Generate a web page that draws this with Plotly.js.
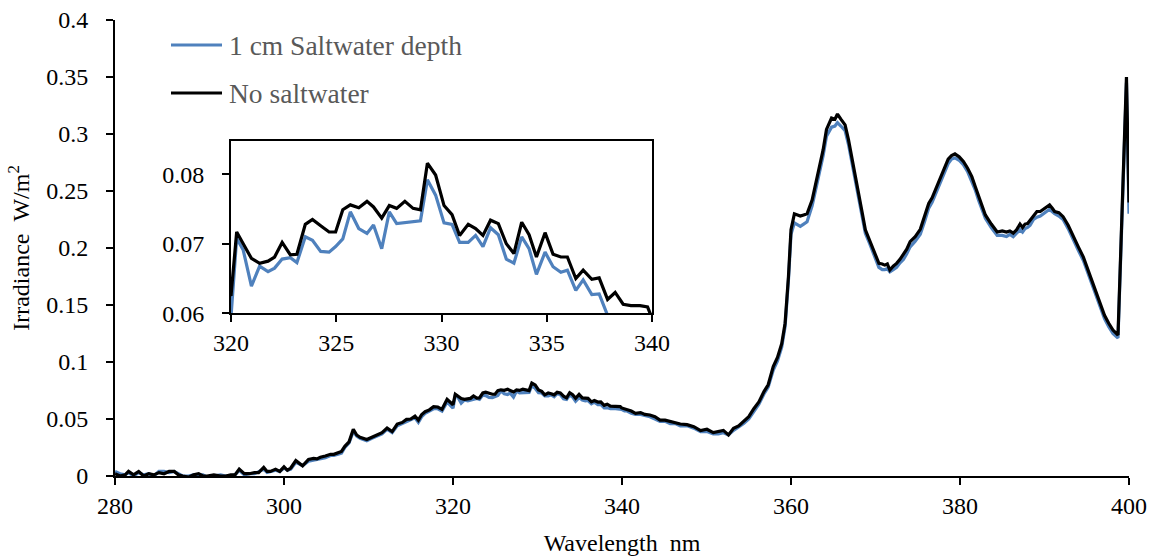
<!DOCTYPE html>
<html>
<head>
<meta charset="utf-8">
<script src="https://cdn.plot.ly/plotly-3.0.1.min.js"></script>
<style>html,body{margin:0;padding:0;background:#fff;}#chart{width:1153px;height:558px;}</style>
</head>
<body>
<div id="chart"></div>
<script>
// ---- Data (wavelength in nm, irradiance in W/m^2) ----
// Region 280 - 320 nm
const wlA = [280.0,280.6,281.2,281.6,282.2,282.8,283.4,284.0,284.6,285.2,285.8,286.4,287.0,287.5,288.0,288.7,289.3,289.9,290.4,290.9,291.7,292.5,293.1,293.7,294.2,294.7,295.3,295.9,296.5,297.0,297.6,298.0,298.4,299.0,299.5,300.0,300.4,300.8,301.4,301.9,302.2,302.9,303.5,303.9,304.3,304.9,305.5,305.9,306.4,306.8,307.2,307.7,308.2,308.6,309.0,309.4,309.8,310.4,311.0,311.6,312.2,312.8,313.4,314.0,314.5,315.0,315.5,315.9,316.3,316.7,317.2,317.7,318.2,318.7,319.3,319.6];
const saltA = [0.004,0.002,0.001,0.003,0.000,0.003,0.001,0.002,0.000,0.004,0.004,0.003,0.004,0.002,0.000,0.000,0.001,0.001,0.001,-0.001,0.000,0.001,0.000,0.000,0.001,0.005,0.001,0.002,0.002,0.004,0.006,0.003,0.004,0.005,0.004,0.007,0.005,0.006,0.012,0.010,0.009,0.013,0.014,0.014,0.015,0.016,0.018,0.018,0.019,0.020,0.025,0.029,0.039,0.035,0.033,0.032,0.031,0.033,0.035,0.037,0.041,0.038,0.044,0.046,0.048,0.049,0.051,0.047,0.052,0.055,0.057,0.059,0.059,0.057,0.065,0.063];
const noneA = [0.002,0.000,0.001,0.004,0.001,0.004,0.000,0.002,0.001,0.003,0.002,0.004,0.004,0.001,0.000,-0.001,0.001,0.002,0.000,0.000,0.001,0.000,0.000,0.001,0.001,0.006,0.002,0.002,0.003,0.003,0.0075,0.004,0.004,0.006,0.004,0.008,0.005,0.007,0.0135,0.011,0.009,0.0146,0.0155,0.0150,0.0164,0.0175,0.019,0.019,0.020,0.0215,0.026,0.030,0.041,0.036,0.034,0.033,0.032,0.034,0.036,0.038,0.042,0.039,0.0456,0.047,0.0497,0.050,0.0526,0.049,0.054,0.0564,0.058,0.0608,0.0605,0.0585,0.0673,0.065];
// Region 320 - 340 nm (the inset range)
const wlB = [320.0,320.27,320.58,320.97,321.36,321.76,322.07,322.43,322.82,323.13,323.53,323.87,324.26,324.66,324.97,325.31,325.67,326.07,326.46,326.77,327.16,327.52,327.87,328.26,328.65,329.0,329.33,329.72,330.12,330.5,330.86,331.27,331.62,331.97,332.33,332.7,333.08,333.44,333.81,334.16,334.51,334.92,335.3,335.67,335.98,336.38,336.73,337.14,337.49,337.89,338.25,338.63,339.0,339.43,339.79,339.95];
const saltB = [0.0595,0.0708,0.0691,0.0639,0.0668,0.0660,0.0665,0.0678,0.0680,0.0673,0.0710,0.0705,0.0689,0.0688,0.0696,0.0707,0.0746,0.0722,0.0715,0.0727,0.0693,0.0746,0.0729,0.0730,0.0732,0.0733,0.0792,0.0770,0.0730,0.0728,0.0702,0.0702,0.0712,0.0696,0.0723,0.0713,0.0678,0.0672,0.0710,0.0693,0.0656,0.0688,0.0667,0.0659,0.0662,0.0633,0.0648,0.0627,0.0628,0.0597,0.0598,0.0590,0.0592,0.0591,0.0590,0.0585];
const noneB = [0.0625,0.0717,0.0700,0.0679,0.0672,0.0675,0.0681,0.0702,0.0684,0.0685,0.0728,0.0735,0.0726,0.0717,0.0717,0.0749,0.0756,0.0752,0.0761,0.0753,0.0737,0.0755,0.0751,0.0761,0.0751,0.0749,0.0816,0.0799,0.0755,0.0742,0.0712,0.0728,0.0722,0.0712,0.0734,0.0729,0.0700,0.0686,0.0731,0.0713,0.0681,0.0716,0.0685,0.0681,0.0681,0.0650,0.0662,0.0649,0.0651,0.0620,0.0630,0.0613,0.0611,0.0611,0.0609,0.0597];
// Region 340 - 360 nm
const wlC = [340.3,340.6,341.1,341.6,342.2,342.7,343.3,343.9,344.5,345.1,345.7,346.3,346.9,347.7,348.5,349.3,350.05,350.8,351.4,352.0,352.6,353.2,353.8,354.4,355.0,355.6,356.2,356.8,357.3,357.9,358.4,358.9,359.3,359.7];
const saltC = [0.057,0.057,0.055,0.054,0.054,0.053,0.052,0.050,0.048,0.048,0.046,0.046,0.044,0.044,0.042,0.039,0.039,0.037,0.037,0.038,0.036,0.040,0.043,0.046,0.050,0.057,0.063,0.072,0.078,0.093,0.101,0.113,0.131,0.172];
const noneC = [0.059,0.0585,0.057,0.055,0.0556,0.054,0.0535,0.052,0.049,0.049,0.0477,0.047,0.0456,0.045,0.0433,0.0398,0.041,0.038,0.039,0.040,0.036,0.0418,0.044,0.0477,0.052,0.059,0.065,0.074,0.080,0.096,0.104,0.116,0.134,0.175];
// Region 360 - 380 nm
const wlD = [360.0,360.4,360.8,361.1,361.5,361.9,362.5,362.9,363.3,363.8,364.2,364.8,365.2,365.5,365.9,366.4,366.8,367.2,367.6,368.0,368.4,368.8,369.3,369.8,370.4,370.8,371.1,371.4,371.7,372.1,372.5,372.9,373.3,373.7,374.1,374.7,375.3,375.8,376.3,376.7,377.1,377.6,378.0,378.6,379.0,379.4,379.9];
const saltD = [0.212,0.222,0.220,0.219,0.221,0.223,0.237,0.251,0.262,0.281,0.298,0.306,0.307,0.310,0.307,0.303,0.291,0.276,0.260,0.244,0.228,0.213,0.204,0.195,0.183,0.181,0.181,0.182,0.179,0.181,0.183,0.187,0.190,0.195,0.201,0.206,0.212,0.223,0.235,0.240,0.247,0.256,0.264,0.274,0.278,0.279,0.277];
const noneD = [0.216,0.230,0.229,0.228,0.229,0.230,0.242,0.256,0.268,0.286,0.304,0.314,0.313,0.3175,0.313,0.308,0.295,0.280,0.264,0.248,0.232,0.216,0.207,0.198,0.1865,0.186,0.185,0.186,0.1807,0.184,0.1865,0.190,0.194,0.199,0.2056,0.210,0.2164,0.227,0.239,0.244,0.251,0.260,0.268,0.278,0.281,0.2825,0.280];
// Region 380 - 400 nm
const wlE = [380.4,380.9,381.4,381.8,382.2,382.6,383.0,383.7,384.4,385.0,385.5,385.9,386.3,386.7,387.1,387.4,387.7,388.0,388.3,388.7,389.1,389.5,389.9,390.3,390.6,390.9,391.2,391.7,392.2,392.8,393.4,394.0,394.6,395.2,395.8,396.2,396.6,397.1,397.6,398.1,398.7,399.7,400.0];
const saltE = [0.273,0.267,0.259,0.251,0.242,0.234,0.226,0.218,0.211,0.211,0.210,0.212,0.210,0.213,0.216,0.214,0.217,0.218,0.220,0.225,0.227,0.228,0.230,0.232,0.234,0.232,0.230,0.228,0.225,0.217,0.207,0.198,0.189,0.177,0.164,0.155,0.147,0.138,0.131,0.125,0.121,0.345,0.230];
const noneE = [0.276,0.270,0.2626,0.254,0.245,0.237,0.229,0.221,0.214,0.215,0.214,0.215,0.213,0.216,0.221,0.218,0.221,0.2215,0.2246,0.229,0.232,0.232,0.234,0.236,0.2377,0.235,0.232,0.231,0.2275,0.220,0.210,0.201,0.192,0.180,0.1675,0.158,0.150,0.141,0.134,0.128,0.1237,0.350,0.240];

const seriesNames = ["1 cm Saltwater depth", "No saltwater"];
const seriesColors = ["#4F81BD", "#000000"];
const xTicksMain = [280, 300, 320, 340, 360, 380, 400];
const xTicksInset = [320, 325, 330, 335, 340];
const yTicksInset = [0.06, 0.07, 0.08];

const wavelength = [].concat(wlA, wlB, wlC, wlD, wlE);
const saltwater = [].concat(saltA, saltB, saltC, saltD, saltE);
const noSaltwater = [].concat(noneA, noneB, noneC, noneD, noneE);

const serif = '"Liberation Serif", "Times New Roman", serif';
const ys = [saltwater, noSaltwater];
const traces = [];
['', '2'].forEach(function (sfx) {
  for (let i = 0; i < 2; i++) {
    traces.push({
      x: wavelength, y: ys[i], type: 'scatter', mode: 'lines',
      name: seriesNames[i], showlegend: false,
      xaxis: 'x' + sfx, yaxis: 'y' + sfx,
      line: {color: seriesColors[i], width: 3.2}
    });
  }
});

const W = 1153, H = 558, L = 115, R = 24, T = 20, B = 82;
const pw = W - L - R, ph = H - T - B;
function px(x) { return (x - L) / pw; }
function py(y) { return (H - B - y) / ph; }

const tickFont = {family: serif, size: 24, color: '#000'};
const axisCommon = {
  showgrid: false, zeroline: false, showline: true, linecolor: '#000', linewidth: 2,
  ticks: 'outside', ticklen: 7, tickwidth: 2, tickcolor: '#000', tickfont: tickFont
};

const layout = {
  width: W, height: H,
  margin: {l: L, r: R, t: T, b: B, pad: 0},
  paper_bgcolor: '#fff', plot_bgcolor: '#fff',
  showlegend: false,
  xaxis: Object.assign({}, axisCommon, {
    domain: [0, 1], range: [280, 400], tickvals: xTicksMain, anchor: 'y',
    title: {text: 'Wavelength\u00A0\u00A0nm', font: {family: serif, size: 24, color: '#000'}, standoff: 16}
  }),
  yaxis: Object.assign({}, axisCommon, {
    domain: [0, 1], range: [0, 0.4], dtick: 0.05, tick0: 0, anchor: 'x',
    ticklabelstandoff: 13,
    title: {text: 'Irradiance\u00A0\u00A0W/m<sup>2</sup>', font: {family: serif, size: 24, color: '#000'}, standoff: 10}
  }),
  xaxis2: Object.assign({}, axisCommon, {
    domain: [px(231), px(652)], range: [320, 340], tickvals: xTicksInset, anchor: 'y2',
    mirror: true
  }),
  yaxis2: Object.assign({}, axisCommon, {
    domain: [py(313.3), py(141)], range: [0.06, 0.08 + (174.3 - 141) / 6950], tickvals: yTicksInset,
    anchor: 'x2', mirror: true, ticklabelstandoff: 13
  }),
  shapes: [
    {type: 'line', xref: 'paper', yref: 'paper', x0: px(171), x1: px(222), y0: py(45), y1: py(45),
     line: {color: seriesColors[0], width: 3.2}},
    {type: 'line', xref: 'paper', yref: 'paper', x0: px(171), x1: px(222), y0: py(93), y1: py(93),
     line: {color: seriesColors[1], width: 3.2}}
  ],
  annotations: [
    {xref: 'paper', yref: 'paper', x: px(227), y: py(45), xanchor: 'left', yanchor: 'middle',
     text: seriesNames[0], showarrow: false, font: {family: serif, size: 27.5, color: '#595959'}},
    {xref: 'paper', yref: 'paper', x: px(227), y: py(93), xanchor: 'left', yanchor: 'middle',
     text: seriesNames[1], showarrow: false, font: {family: serif, size: 27.5, color: '#595959'}}
  ]
};

Plotly.newPlot('chart', traces, layout, {staticPlot: true, displayModeBar: false});
</script>
</body>
</html>
